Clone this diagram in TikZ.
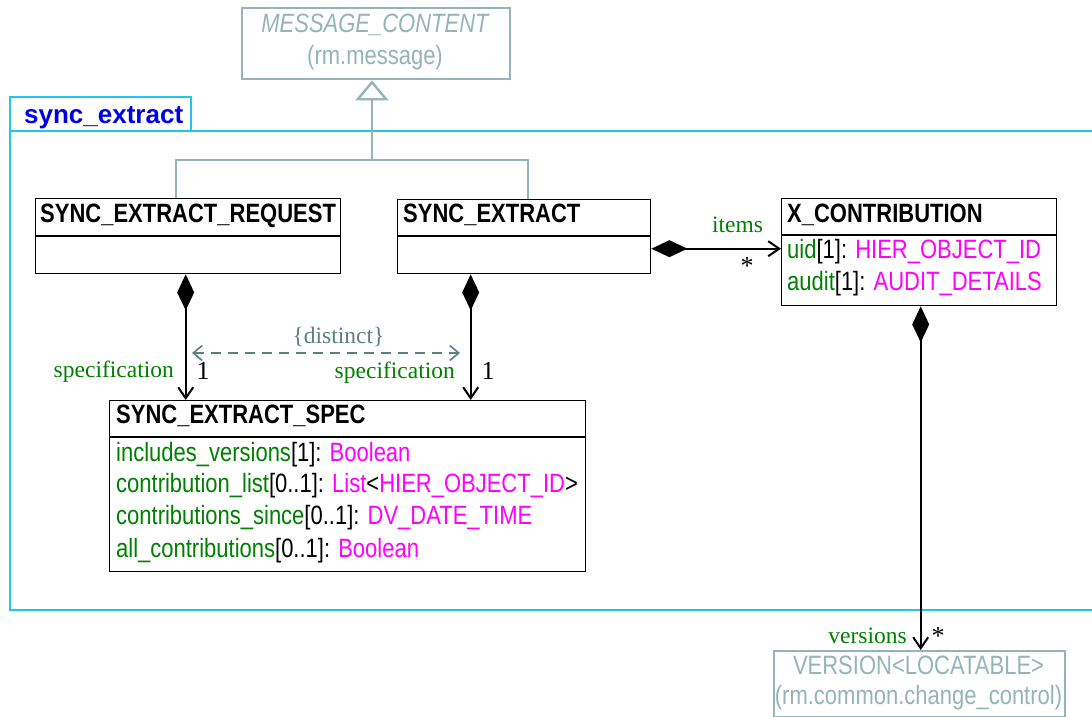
\documentclass[tikz,border=0pt]{standalone}
\usepackage{fontspec}
\setmainfont{Liberation Serif}
\newfontfamily\umlsf[FakeStretch=0.83]{Liberation Sans}
\newfontfamily\pkgsf{Liberation Sans}
\usetikzlibrary{arrows.meta,positioning}

\definecolor{pkgcyan}{RGB}{32,196,240}
\definecolor{pkgblue}{RGB}{0,0,230}
\definecolor{extgray}{RGB}{148,180,184}
\definecolor{notegray}{RGB}{90,128,128}
\definecolor{attrgreen}{RGB}{0,128,0}
\definecolor{typemag}{RGB}{255,0,255}

\newcommand\aname[1]{\textcolor{attrgreen}{#1}}
\newcommand\atype[1]{\textcolor{typemag}{#1}}

\begin{document}
\begin{tikzpicture}[x=1pt,y=-1pt,
  cls/.style={draw=black,line width=1.4pt,anchor=north west,inner sep=0pt},
  ext/.style={draw=extgray,line width=2.4pt,anchor=north west,inner sep=0pt},
  hdr/.style={font=\umlsf\bfseries\fontsize{26.5}{30}\selectfont,anchor=base west,inner sep=0pt},
  attr/.style={font=\umlsf\fontsize{26.5}{30}\selectfont,anchor=base west,inner sep=0pt},
  extt/.style={font=\umlsf\fontsize{26.5}{30}\selectfont,text=extgray,anchor=base,inner sep=0pt},
  lbl/.style={font=\fontsize{23.5}{28}\selectfont,inner sep=0pt},
  mul/.style={font=\fontsize{26}{30}\selectfont,inner sep=0pt},
  compo/.style={line width=2pt,{Diamond[length=36pt,width=17pt]}-{Straight Barb[length=11pt,width=15pt]}},
  gen/.style={draw=extgray,line width=2.4pt},
  pkg/.style={draw=pkgcyan,line width=2pt}]

\useasboundingbox (0,0) rectangle (1092,717);

% package frame
\draw[pkg] (10,97) rectangle (191,131);
\draw[pkg] (1100,131) -- (10,131) -- (10,610) -- (1100,610);
\node[font=\pkgsf\bfseries\fontsize{26}{30}\selectfont,text=pkgblue,anchor=base west,inner sep=0pt] (pkgname) at (24,123) {sync\_extract};

% outside classes
\node[ext,minimum width=268pt,minimum height=71pt] (msg) at (241,7) {};
\node[extt,font=\umlsf\itshape\fontsize{26.5}{30}\selectfont] (msgname) at (375,33) {MESSAGE\_CONTENT};
\node[extt] (msgpkg) at (375,64) {(rm.message)};

\node[ext,minimum width=291pt,minimum height=66pt] (ver) at (773,650) {};
\node[extt] (vername) at (918.5,674) {VERSION<LOCATABLE>};
\node[extt] (verpkg) at (918.5,704) {(rm.common.change\_control)};

% classes
\node[cls,minimum width=305pt,minimum height=75pt] (req) at (35,198) {};
\node[hdr] (reqname) at ([xshift=5pt,yshift=-24pt]req.north west) {SYNC\_EXTRACT\_REQUEST};
\draw[line width=1.4pt] ([yshift=-38pt]req.north west) -- ([yshift=-38pt]req.north east);

\node[cls,minimum width=253pt,minimum height=74pt] (se) at (397,199) {};
\node[hdr] (sename) at ([xshift=6pt,yshift=-23pt]se.north west) {SYNC\_EXTRACT};
\draw[line width=1.4pt] ([yshift=-37pt]se.north west) -- ([yshift=-37pt]se.north east);

\node[cls,minimum width=275pt,minimum height=107pt] (xc) at (781,198) {};
\node[hdr] (xcname) at ([xshift=6pt,yshift=-24pt]xc.north west) {X\_CONTRIBUTION};
\draw[line width=1.4pt] ([yshift=-37pt]xc.north west) -- ([yshift=-37pt]xc.north east);
\node[attr] (xcuid) at ([xshift=6pt,yshift=-60pt]xc.north west) {\aname{uid}[1]: \atype{HIER\_OBJECT\_ID}};
\node[attr] (xcaudit) at ([xshift=6pt,yshift=-92pt]xc.north west) {\aname{audit}[1]: \atype{AUDIT\_DETAILS}};

\node[cls,minimum width=476pt,minimum height=171pt] (spec) at (109,400) {};
\node[hdr] (specname) at ([xshift=7pt,yshift=-23pt]spec.north west) {SYNC\_EXTRACT\_SPEC};
\draw[line width=1.4pt] ([yshift=-37pt]spec.north west) -- ([yshift=-37pt]spec.north east);
\node[attr] (specinc) at ([xshift=7pt,yshift=-61pt]spec.north west) {\aname{includes\_versions}[1]: \atype{Boolean}};
\node[attr] (speclist) at ([xshift=7pt,yshift=-92pt]spec.north west) {\aname{contribution\_list}[0..1]: \atype{List}<\atype{HIER\_OBJECT\_ID}>};
\node[attr] (specsince) at ([xshift=7pt,yshift=-124pt]spec.north west) {\aname{contributions\_since}[0..1]: \atype{DV\_DATE\_TIME}};
\node[attr] (specall) at ([xshift=7pt,yshift=-157pt]spec.north west) {\aname{all\_contributions}[0..1]: \atype{Boolean}};

% inheritance
\coordinate (junc) at (372,160);
\draw[gen] ([xshift=-12pt]req.north) |- (junc) -| ([xshift=3.5pt]se.north);
\draw[gen,-{Triangle[open,fill=white,length=20pt,width=33pt]}] (junc) -- (junc |- msg.south);

% compositions
\draw[compo] ([xshift=-2.5pt]req.south) -- ([xshift=-2.5pt]req.south |- spec.north);
\draw[compo] ([xshift=-53.5pt]se.south) -- ([xshift=-53.5pt]se.south |- spec.north);
\draw[compo] ([yshift=-12pt]se.east) -- ([yshift=-12pt]se.east -| xc.west);
\draw[compo] ([xshift=1.5pt]xc.south) -- ([xshift=1.5pt]xc.south |- ver.north);

% constraint
\coordinate (dl) at (192,353);
\coordinate (dr) at (460,353);
\draw[draw=notegray,line width=1.6pt,dash pattern=on 10pt off 7pt,{Straight Barb[length=9pt,width=15pt]}-{Straight Barb[length=9pt,width=15pt]}] (dl) -- (dr);
\node[lbl,text=notegray,anchor=base] (distinct) at (338.5,343) {\{distinct\}};

% role names
\node[lbl,text=attrgreen,anchor=base] (itemslbl) at (737.5,232) {items};
\node[mul] (itemsmul) at (747,266) {*};
\node[lbl,text=attrgreen,anchor=base east] (spec1lbl) at (174,377) {specification};
\node[mul,anchor=base] (spec1mul) at (203,379) {1};
\node[lbl,text=attrgreen,anchor=base east] (spec2lbl) at (455,378) {specification};
\node[mul,anchor=base] (spec2mul) at (488,379) {1};
\node[lbl,text=attrgreen,anchor=base east] (verlbl) at (907,643) {versions};
\node[mul] (vermul) at (938,636) {*};

\end{tikzpicture}
\end{document}
